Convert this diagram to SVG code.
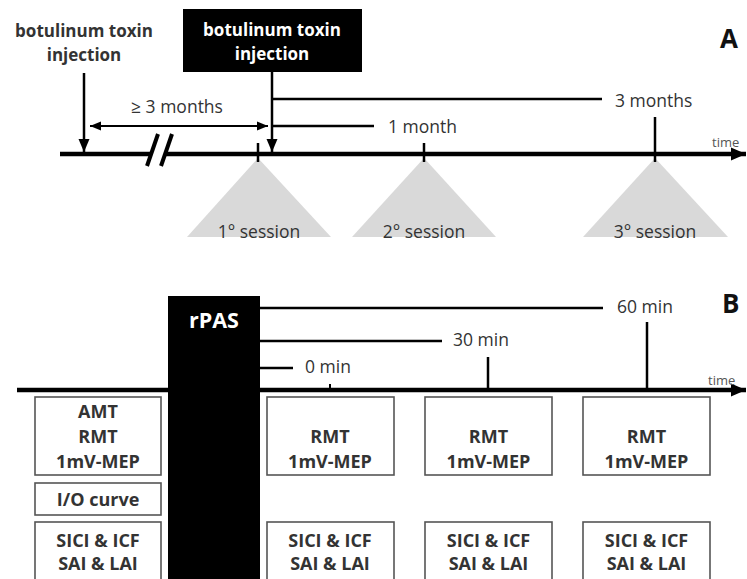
<svg xmlns="http://www.w3.org/2000/svg" width="747" height="579" viewBox="0 0 747 579">
<defs>
<style>
.t{font-family:"Open Sans","Liberation Sans",sans-serif;fill:#333}
.b{font-weight:bold}
.bx{font-weight:bold;font-size:18px}
.ln{stroke:#000;fill:none}
.box{fill:#fff;stroke:#555;stroke-width:1.6}
.tri{fill:#d9d9d9}
</style>
<marker id="ah" markerUnits="userSpaceOnUse" markerWidth="14" markerHeight="14" viewBox="0 0 14 14" refX="13" refY="7" orient="auto">
<path d="M0,1.5 L13,7 L0,12.5 Z" fill="#000"/>
</marker>
<marker id="ahs" markerUnits="userSpaceOnUse" markerWidth="12" markerHeight="12" viewBox="0 0 12 12" refX="11" refY="6" orient="auto-start-reverse">
<path d="M0,1.5 L11,6 L0,10.5 Z" fill="#000"/>
</marker>
<marker id="ahm" markerUnits="userSpaceOnUse" markerWidth="16" markerHeight="16" viewBox="0 0 16 16" refX="15" refY="8" orient="auto">
<path d="M0,1.5 L15,8 L0,14.5 Z" fill="#000"/>
</marker>
</defs>

<!-- Panel A -->
<g id="A-label"><text class="t b" x="720" y="48" font-size="26" style="fill:#111">A</text></g>

<g id="triangles-A">
<g id="session1"><polygon class="tri" points="258,158 187,237 331,237"/><text class="t" x="259" y="238" font-size="17.5" text-anchor="middle">1° session</text></g>
<g id="session2"><polygon class="tri" points="424,158 352,237 496,237"/><text class="t" x="424" y="238" font-size="17.5" text-anchor="middle">2° session</text></g>
<g id="session3"><polygon class="tri" points="655,158 583,237 728,237"/><text class="t" x="655" y="238" font-size="17.5" text-anchor="middle">3° session</text></g>
</g>

<g id="injection1"><text class="t b" x="84" y="37" font-size="17" text-anchor="middle">botulinum toxin</text><text class="t b" x="84" y="61" font-size="17" text-anchor="middle">injection</text></g>

<g id="injection2"><rect x="183" y="9" width="179" height="63" fill="#000"/><text class="t b" x="272" y="36" font-size="17" text-anchor="middle" style="fill:#fff">botulinum toxin</text><text class="t b" x="272" y="60" font-size="17" text-anchor="middle" style="fill:#fff">injection</text></g>

<g id="connectors-A">
<line class="ln" x1="60" y1="154" x2="152" y2="154" stroke-width="4.5"/>
<line class="ln" x1="166" y1="154" x2="746" y2="154" stroke-width="4.5" marker-end="url(#ahm)"/>
<line class="ln" x1="158" y1="134" x2="147" y2="166" stroke-width="4"/>
<line class="ln" x1="172" y1="134" x2="161" y2="166" stroke-width="4"/>
<line class="ln" x1="84" y1="73" x2="84" y2="152" stroke-width="2.5" marker-end="url(#ah)"/>
<line class="ln" x1="272" y1="72" x2="272" y2="152" stroke-width="2.5" marker-end="url(#ah)"/>
<line class="ln" x1="90" y1="126" x2="268" y2="126" stroke-width="2.2" marker-start="url(#ahs)" marker-end="url(#ahs)"/>
<line class="ln" x1="272" y1="99" x2="602" y2="99" stroke-width="2.5"/>
<line class="ln" x1="272" y1="126" x2="374" y2="126" stroke-width="2.5"/>
<line class="ln" x1="258" y1="143" x2="258" y2="162" stroke-width="2.5"/>
<line class="ln" x1="424" y1="143" x2="424" y2="162" stroke-width="2.5"/>
<line class="ln" x1="655" y1="117" x2="655" y2="162" stroke-width="2.5"/>
</g>
<g id="labels-A">
<text class="t" x="177" y="113" font-size="17.5" text-anchor="middle">≥ 3 months</text>
<text class="t" x="615" y="107" font-size="17.5">3 months</text>
<text class="t" x="388" y="133" font-size="17.5">1 month</text>
<text class="t" x="712" y="147" font-size="13" style="fill:#555">time</text>
</g>

<!-- Panel B -->
<g id="B-label"><text class="t b" x="722" y="313" font-size="26" style="fill:#111">B</text></g>

<g id="connectors-B">
<line class="ln" x1="17" y1="390" x2="746" y2="390" stroke-width="4.5" marker-end="url(#ahm)"/>
<line class="ln" x1="260" y1="308" x2="603" y2="308" stroke-width="2.5"/>
<line class="ln" x1="260" y1="341" x2="442" y2="341" stroke-width="2.5"/>
<line class="ln" x1="260" y1="368" x2="293" y2="368" stroke-width="2.5"/>
<line class="ln" x1="330" y1="384" x2="330" y2="390" stroke-width="2"/>
<line class="ln" x1="488" y1="357" x2="488" y2="390" stroke-width="2.5"/>
<line class="ln" x1="647" y1="322" x2="647" y2="390" stroke-width="2.5"/>
</g>
<g id="labels-B">
<text class="t" x="617" y="313" font-size="17.5">60 min</text>
<text class="t" x="453" y="346" font-size="17.5">30 min</text>
<text class="t" x="305" y="373" font-size="17.5">0 min</text>
<text class="t" x="708" y="385" font-size="13" style="fill:#555">time</text>
</g>

<g id="rPAS"><rect x="168" y="296" width="92" height="290" fill="#000"/><text class="t b" x="214" y="328" font-size="21.5" text-anchor="middle" style="fill:#fff">rPAS</text></g>

<g id="pre-box1"><rect class="box" x="35" y="397" width="126" height="78"/>
<text class="t bx" x="98" y="418" text-anchor="middle">AMT</text>
<text class="t bx" x="98" y="443" text-anchor="middle">RMT</text>
<text class="t bx" x="98" y="468" text-anchor="middle">1mV-MEP</text></g>
<g id="pre-box2"><rect class="box" x="35" y="483" width="126" height="32"/>
<text class="t bx" x="98" y="506" text-anchor="middle">I/O curve</text></g>
<g id="pre-box3"><rect class="box" x="35" y="522" width="126" height="70"/>
<text class="t bx" x="98" y="547" text-anchor="middle">SICI &amp; ICF</text>
<text class="t bx" x="98" y="570" text-anchor="middle">SAI &amp; LAI</text></g>

<g id="t0-box1"><rect class="box" x="267" y="397" width="127" height="78"/>
<text class="t bx" x="330" y="443" text-anchor="middle">RMT</text>
<text class="t bx" x="330" y="468" text-anchor="middle">1mV-MEP</text></g>
<g id="t0-box2"><rect class="box" x="267" y="522" width="127" height="70"/>
<text class="t bx" x="330" y="547" text-anchor="middle">SICI &amp; ICF</text>
<text class="t bx" x="330" y="570" text-anchor="middle">SAI &amp; LAI</text></g>

<g id="t30-box1"><rect class="box" x="425" y="397" width="127" height="78"/>
<text class="t bx" x="488.5" y="443" text-anchor="middle">RMT</text>
<text class="t bx" x="488.5" y="468" text-anchor="middle">1mV-MEP</text></g>
<g id="t30-box2"><rect class="box" x="425" y="522" width="127" height="70"/>
<text class="t bx" x="488.5" y="547" text-anchor="middle">SICI &amp; ICF</text>
<text class="t bx" x="488.5" y="570" text-anchor="middle">SAI &amp; LAI</text></g>

<g id="t60-box1"><rect class="box" x="583" y="397" width="127" height="78"/>
<text class="t bx" x="646.5" y="443" text-anchor="middle">RMT</text>
<text class="t bx" x="646.5" y="468" text-anchor="middle">1mV-MEP</text></g>
<g id="t60-box2"><rect class="box" x="583" y="522" width="127" height="70"/>
<text class="t bx" x="646.5" y="547" text-anchor="middle">SICI &amp; ICF</text>
<text class="t bx" x="646.5" y="570" text-anchor="middle">SAI &amp; LAI</text></g>
</svg>
